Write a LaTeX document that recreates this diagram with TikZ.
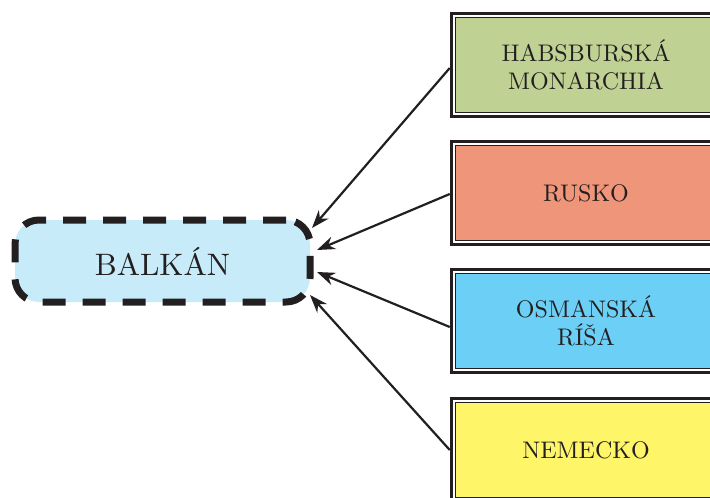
\documentclass[tikz,border=0pt]{standalone}
\usepackage{fontspec}
\newfontfamily\lmten{lmroman10-regular.otf}
\usetikzlibrary{arrows.meta,fit}
\definecolor{ink}{RGB}{35,31,32}
\definecolor{fillHab}{RGB}{192,209,148}
\definecolor{fillRus}{RGB}{239,150,122}
\definecolor{fillOsm}{RGB}{108,207,246}
\definecolor{fillNem}{RGB}{255,245,104}
\definecolor{fillBal}{RGB}{200,235,250}

\begin{document}
\begin{tikzpicture}[x=1pt, y=-1pt, >=Stealth,
  land/.style={draw=ink, line width=1.3pt, fill=#1, minimum width=261pt,
    minimum height=95pt, inner sep=0pt, outer sep=0pt, align=center,
    text=ink, font=\lmten\fontsize{24}{28.5}\selectfont},
  frame/.style={draw=ink, line width=3.5pt, inner sep=4pt},
  arr/.style={draw=ink, line width=2.2pt, -{Stealth[length=18pt, width=13pt]}}]
\useasboundingbox (0,0) rectangle (710,498);
\clip (0,0) rectangle (710,498);
% Balkan v strede
\node[draw=ink, fill=fillBal, line width=7pt, dash pattern=on 23pt off 17pt,
  rounded corners=24pt, minimum width=295pt, minimum height=82pt,
  inner sep=0pt, outer sep=0pt, text=ink, font=\lmten\fontsize{31}{37}\selectfont]
  (balkan) at (162.5,261) {BALKÁN};
% mocnosti vpravo
\node[land=fillHab] (hab) at (586,65) {HABSBURSKÁ\\MONARCHIA};
\node[land=fillRus] (rus) at (586,193) {RUSKO};
\node[land=fillOsm] (osm) at (586,321) {OSMANSKÁ\\RÍŠA};
\node[land=fillNem] (nem) at (586,450) {NEMECKO};
\node[frame, fit=(hab)] (habf) {};
\node[frame, fit=(rus)] (rusf) {};
\node[frame, fit=(osm)] (osmf) {};
\node[frame, fit=(nem)] (nemf) {};
% sipky k Balkanu
\draw[arr] ([yshift=-3pt]habf.west) -- ([shift={(2,-33)}]balkan.east);
\draw[arr] ([yshift=-1pt]rusf.west) -- ([shift={(7,-11)}]balkan.east);
\draw[arr] ([yshift=-6pt]osmf.west) -- ([shift={(7,11)}]balkan.east);
\draw[arr] (nemf.west) -- ([shift={(0,34)}]balkan.east);
\end{tikzpicture}
\end{document}
